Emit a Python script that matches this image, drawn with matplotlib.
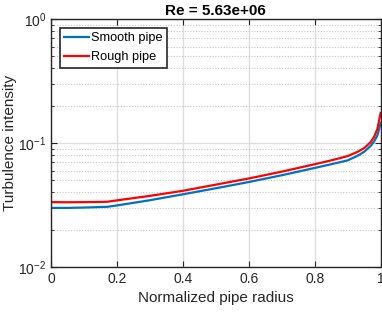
import matplotlib.pyplot as plt
import numpy as np

plt.rcParams["font.family"] = ["Liberation Sans", "DejaVu Sans"]

# normalized radius and turbulence intensity
r = [0.0, 0.05, 0.10, 0.17, 0.20, 0.30, 0.40, 0.50, 0.60, 0.70, 0.80, 0.85,
     0.90, 0.93, 0.95, 0.97, 0.98, 0.99, 1.0]
smooth = [0.0300, 0.0300, 0.0302, 0.0306, 0.0314, 0.0346, 0.0386, 0.0432,
          0.0485, 0.0550, 0.0630, 0.0675, 0.0725, 0.0790, 0.0850, 0.0950,
          0.1030, 0.1150, 0.1450]
rough = [0.0334, 0.0333, 0.0334, 0.0336, 0.0345, 0.0375, 0.0412, 0.0462,
         0.0518, 0.0588, 0.0675, 0.0725, 0.0785, 0.0850, 0.0910, 0.1020,
         0.1120, 0.1300, 0.1750]

fig = plt.figure(figsize=(3.82, 3.12), dpi=100)
ax = fig.add_axes([0.1335, 0.144, 0.863, 0.795])

ax.plot(r, smooth, color="#0072BD", linewidth=1.6, label="Smooth pipe")
ax.plot(r, rough, color="#FF0000", linewidth=1.6, label="Rough pipe")

ax.set_yscale("log")
ax.set_xlim(0, 1)
ax.set_ylim(1e-2, 1)
ax.set_xticks([0, 0.2, 0.4, 0.6, 0.8, 1])
ax.set_xticklabels(["0", "0.2", "0.4", "0.6", "0.8", "1"])

ax.grid(which="major", color="#dedede", linewidth=1.0, linestyle="-")
ax.grid(which="minor", axis="y", color="#c8c8c8", linewidth=0.8, linestyle=(0, (1, 1.5)))
ax.set_axisbelow(True)

ax.tick_params(which="both", direction="in", top=True, right=True,
               labelsize=10, colors="#262626")
ax.tick_params(which="major", length=4)
ax.tick_params(which="minor", length=2)
for s in ax.spines.values():
    s.set_color("#262626")
    s.set_linewidth(1.0)

ax.set_xlabel("Normalized pipe radius", fontsize=11, color="#262626")
ax.set_ylabel("Turbulence intensity", fontsize=11, color="#262626")
ax.yaxis.set_label_coords(-0.104, 0.5)
ax.set_title("Re = 5.63e+06", fontsize=11, fontweight="bold", pad=3)

leg = ax.legend(loc="upper left", fontsize=9.2, frameon=True, fancybox=False,
                handlelength=1.9, handletextpad=0.2, borderpad=0.35,
                labelspacing=0.55, borderaxespad=0.7)
leg.get_frame().set_edgecolor("#262626")
leg.get_frame().set_linewidth(1.2)
leg.get_frame().set_alpha(1.0)

fig.savefig("out.png", dpi=100)
